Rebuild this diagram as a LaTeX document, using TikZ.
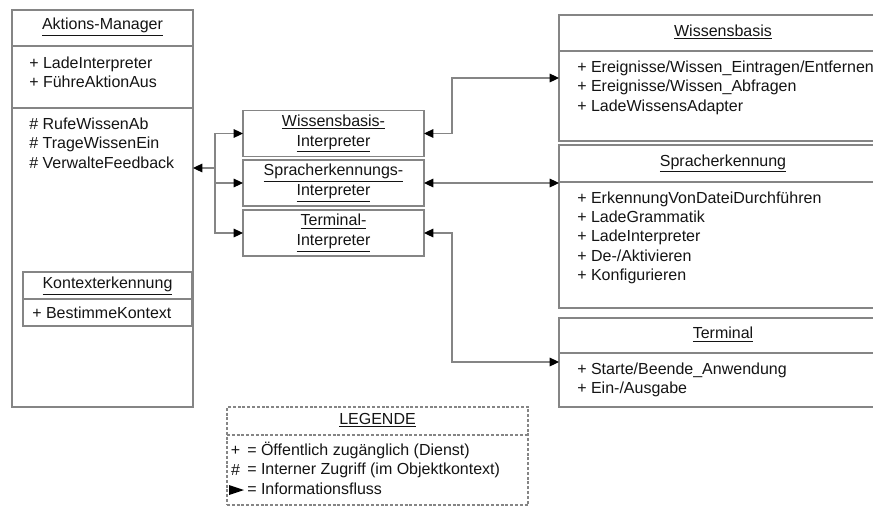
\documentclass[tikz,border=0pt]{standalone}
\usepackage{fontspec}
\setmainfont{Liberation Sans}
\usetikzlibrary{arrows.meta,fit}
\definecolor{cLine}{HTML}{858585}
\definecolor{cInk}{HTML}{141414}

\begin{document}
\begin{tikzpicture}[
  x=0.75pt, y=-0.75pt,
  font=\fontsize{12}{15}\selectfont,
  >={Triangle[length=7pt,width=6.5pt,color=black]},
  classbox/.style={draw=cLine, line width=0.8pt, inner sep=0pt, outer sep=0pt},
  legbox/.style={classbox, dash pattern=on 2.2pt off 1.4pt},
  divider/.style={draw=cLine, line width=0.8pt},
  legdivider/.style={divider, dash pattern=on 2.2pt off 1.4pt},
  ibox/.style={draw=cLine, line width=0.8pt, minimum width=135.75pt,
    minimum height=34.5pt, inner sep=0pt, outer sep=0pt, align=center, text=cInk},
  ctitle/.style={text=cInk, inner sep=0pt},
  member/.style={text=cInk, inner sep=0pt, anchor=west,
    text height=8.8pt, text depth=2.4pt},
  flow/.style={draw=cLine, line width=0.8pt, ->},
  flowboth/.style={draw=cLine, line width=0.8pt, <->},
]
\clip (0,0) rectangle (873,507);

% ---- Aktions-Manager ----
\node[classbox, fit={(12,10) (193,407)}] (am) {};
\foreach \y in {46,108}{\draw[divider] (am.west |- 0,\y) -- (am.east |- 0,\y);}
\node[ctitle] (amTitle) at (102.5,27) {\underline{Aktions-Manager}};
\foreach \t [count=\i] in {LadeInterpreter, F\"uhreAktionAus}
  \node[member] (amPub\i) at (29,{64+(\i-1)*19.3}) {+ \t};
\foreach \t [count=\i] in {RufeWissenAb, TrageWissenEin, VerwalteFeedback}
  \node[member] (amInt\i) at (29,{125+(\i-1)*19.5}) {\# \t};

% Kontexterkennung (inside)
\node[classbox, fit={(23,272) (192,326)}] (ke) {};
\draw[divider] (ke.west |- 0,299) -- (ke.east |- 0,299);
\node[ctitle] (keTitle) at (107.5,286) {\underline{Kontexterkennung}};
\node[member] (kePub1) at (32,314) {+ BestimmeKontext};

% ---- Interpreter ----
\node[ibox] (wbi) at (333.5,133.5) {\underline{Wissensbasis-}\\\underline{Interpreter}};
\node[ibox] (spi) at (333.5,183) {\underline{Spracherkennungs-}\\\underline{Interpreter}};
\node[ibox] (tei) at (333.5,233) {\underline{Terminal-}\\\underline{Interpreter}};

% ---- Wissensbasis ----
\node[classbox, fit={(559,15) (887,141)}] (wb) {};
\draw[divider] (wb.west |- 0,51) -- (wb.east |- 0,51);
\node[ctitle] (wbTitle) at (723,32) {\underline{Wissensbasis}};
\foreach \t [count=\i] in {Ereignisse/Wissen\_Eintragen/Entfernen,
    Ereignisse/Wissen\_Abfragen, LadeWissensAdapter}
  \node[member] (wbPub\i) at (577,{68+(\i-1)*19.4}) {+ \t};

% ---- Spracherkennung ----
\node[classbox, fit={(559,145) (887,308)}] (sp) {};
\draw[divider] (sp.west |- 0,182) -- (sp.east |- 0,182);
\node[ctitle] (spTitle) at (723,163.5) {\underline{Spracherkennung}};
\foreach \t [count=\i] in {ErkennungVonDateiDurchf\"uhren, LadeGrammatik,
    LadeInterpreter, De-/Aktivieren, Konfigurieren}
  \node[member] (spPub\i) at (577,{199+(\i-1)*19.3}) {+ \t};

% ---- Terminal ----
\node[classbox, fit={(559,318) (887,407)}] (te) {};
\draw[divider] (te.west |- 0,353) -- (te.east |- 0,353);
\node[ctitle] (teTitle) at (723,334.5) {\underline{Terminal}};
\foreach \t [count=\i] in {Starte/Beende\_Anwendung, Ein-/Ausgabe}
  \node[member] (tePub\i) at (577,{370+(\i-1)*19.3}) {+ \t};

% ---- Flow arrows ----
\coordinate (amJoin) at (215,168);
\draw[flow] (amJoin) -- (amJoin -| am.east);
\foreach \n in {wbi,spi,tei}{\draw[flow] (amJoin) |- (\n.west);}

\coordinate (wbBend) at (452,78);
\draw[flowboth] (wbi.east) -| (wbBend) -- (wbBend -| wb.west);
\draw[flowboth] (spi.east) -- (spi.east -| sp.west);
\coordinate (teBend) at (452,362);
\draw[flowboth] (tei.east) -| (teBend) -- (teBend -| te.west);

% ---- Legende ----
\node[legbox, fit={(227,407) (528,505)}] (leg) {};
\draw[legdivider] (leg.west |- 0,435) -- (leg.east |- 0,435);
\node[ctitle] (legTitle) at (377.5,420) {\underline{LEGENDE}};
\node[ctitle] (legPlus) at (235.5,451) {+};
\node[ctitle] (legHash) at (235.5,470.5) {\#};
\fill[black] (229,485) -- (244,490) -- (229,495) -- cycle;
\node[member] (legText1) at (247,451) {= \"Offentlich zug\"anglich (Dienst)};
\node[member] (legText2) at (247,470.5) {= Interner Zugriff (im Objektkontext)};
\node[member] (legText3) at (247,490) {= Informationsfluss};

\end{tikzpicture}
\end{document}
